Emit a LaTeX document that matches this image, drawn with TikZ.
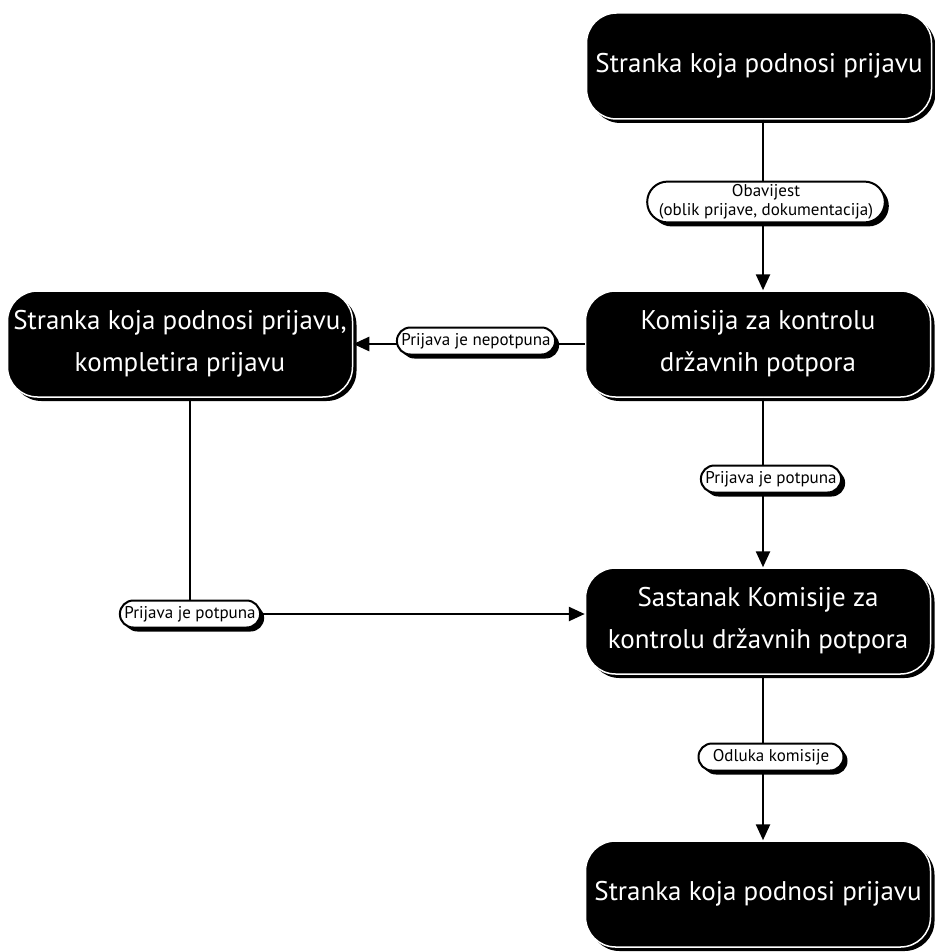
\documentclass[tikz,border=0pt]{standalone}
\usepackage{fontspec}
\setmainfont{PT Sans}
\usetikzlibrary{arrows.meta,shapes.misc,shadows}
\begin{document}
\begin{tikzpicture}[x=1pt,y=-1pt,
  bigbox/.style={rectangle, rounded corners=30pt, fill=black, draw=white, line width=1.5pt,
    text=white, minimum width=345pt, minimum height=106pt, align=center,
    font=\fontsize{27}{42}\selectfont,
    drop shadow={shadow xshift=4pt, shadow yshift=-4pt, fill=black, opacity=1}},
  lbl/.style={rounded rectangle, fill=white, draw=black, line width=2pt, align=center,
    inner xsep=2pt, inner ysep=3pt, minimum height=27pt,
    font=\fontsize{17}{19}\selectfont,
    drop shadow={shadow xshift=4pt, shadow yshift=-4pt, fill=black, opacity=1}},
  conn/.style={line width=2.5pt},
  arr/.style={conn, -{Triangle[length=16pt,width=14pt]}}
]
\useasboundingbox (0,0) rectangle (934,952);
\node[bigbox] (n1) at (759,66) {Stranka koja podnosi prijavu};
\node[bigbox] (n2) at (758,344) {Komisija za kontrolu\\državnih potpora};
\node[bigbox] (nl) at (180,344) {Stranka koja podnosi prijavu,\\kompletira prijavu};
\node[bigbox] (n3) at (758,621) {Sastanak Komisije za\\kontrolu državnih potpora};
\node[bigbox] (n4) at (758,894) {Stranka koja podnosi prijavu};
\coordinate (c1) at (763,0);
\coordinate (cl) at (190,614);
% connectors
\draw[arr] (n1.south -| c1) -- (n2.north -| c1);
\draw[arr] (n2.west) -- (nl.east);
\draw[arr] (n2.south -| c1) -- (n3.north -| c1);
\draw[arr] (n3.south -| c1) -- (n4.north -| c1);
\draw[conn] (nl.south -| cl) -- (cl);
\draw[arr] (cl) -- (cl -| n3.west);
% labels
\node[lbl] (l1) at (766,202) {Obavijest\\(oblik prijave, dokumentacija)};
\node[lbl] (l2) at (476,341) {Prijava je nepotpuna};
\node[lbl] (l3) at (771,479) {Prijava je potpuna};
\node[lbl] (l4) at (190,614) {Prijava je potpuna};
\node[lbl, minimum width=149pt] (l5) at (771,757) {Odluka komisije};
\end{tikzpicture}
\end{document}
